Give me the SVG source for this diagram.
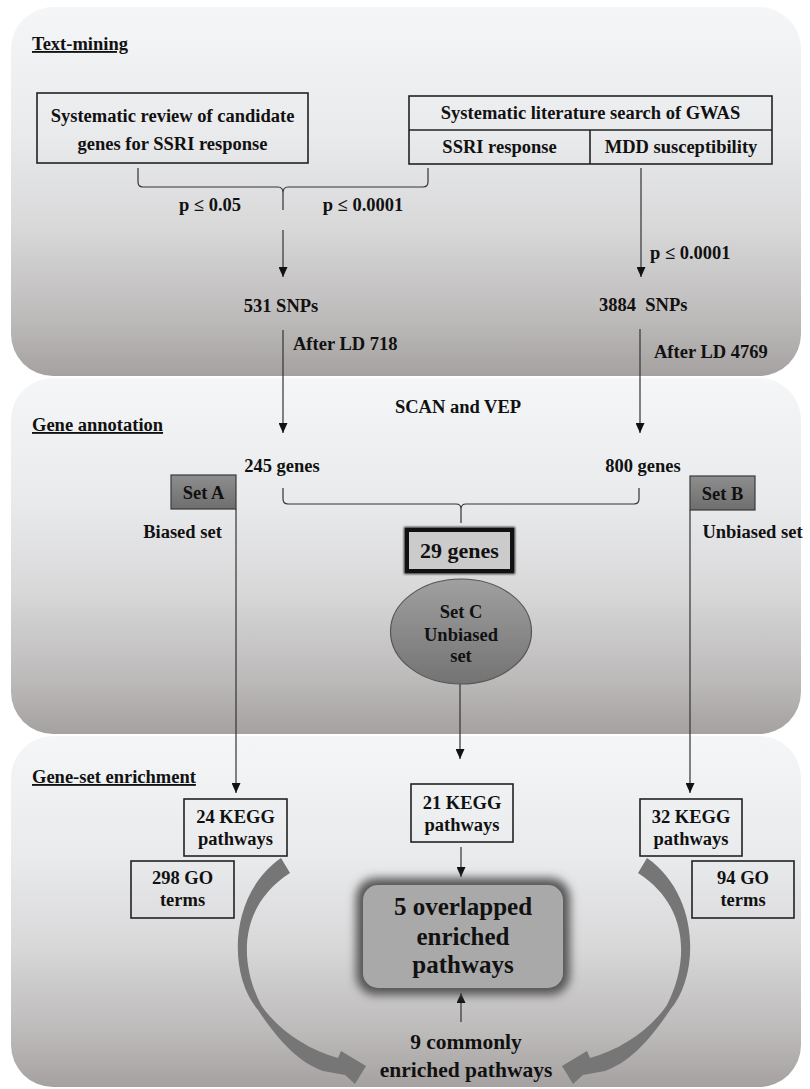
<svg xmlns="http://www.w3.org/2000/svg" width="810" height="1089" viewBox="0 0 810 1089">
<defs>
<style>
.t{font-family:'Liberation Serif','DejaVu Serif',serif;font-weight:bold;font-size:18.5px;fill:#111}
.c{text-anchor:middle}
.u{text-decoration:underline}
.box{fill:none;stroke:#222;stroke-width:1.6}
.ln{stroke:#333;stroke-width:1.2;fill:none}
.ar{marker-end:url(#ah)}
.big{fill:#767676}
</style>
<linearGradient id="pg" x1="0" y1="0" x2="0" y2="1">
<stop offset="0" stop-color="#f4f6f8"/>
<stop offset="0.35" stop-color="#e9eaec"/>
<stop offset="0.6" stop-color="#d8d8d9"/>
<stop offset="0.85" stop-color="#bcb9b9"/>
<stop offset="1" stop-color="#a5a1a1"/>
</linearGradient>
<linearGradient id="sg" x1="0" y1="0" x2="0" y2="1">
<stop offset="0" stop-color="#8e8e8e"/>
<stop offset="1" stop-color="#6e6e6e"/>
</linearGradient>
<linearGradient id="eg" x1="0" y1="0" x2="0" y2="1">
<stop offset="0" stop-color="#a0a0a0"/>
<stop offset="1" stop-color="#737373"/>
</linearGradient>
<filter id="blur" x="-20%" y="-30%" width="140%" height="160%">
<feGaussianBlur stdDeviation="5"/>
</filter>
<filter id="blur1" x="-10%" y="-20%" width="120%" height="140%">
<feGaussianBlur stdDeviation="1.2"/>
</filter>
<marker id="ah" markerUnits="userSpaceOnUse" markerWidth="10" markerHeight="9" refX="10" refY="4.5" orient="auto">
<path d="M0,0 L10,4.5 L0,9 Z" fill="#111"/>
</marker>
<path id="curve" d="M647 858 C700 895 700 975 670 1010 C650 1040 630 1062 605 1071 L583 1075 L573 1084 L562 1066 L587 1051 L590 1058 C620 1050 650 1030 667 1005 C690 960 688 905 638 873 Z"/>
</defs>

<g id="panels">
<rect id="panel-text-mining" x="11" y="7" width="790" height="369" rx="42" fill="url(#pg)"/>
<rect id="panel-gene-annotation" x="11" y="378" width="790" height="356" rx="42" fill="url(#pg)"/>
<rect id="panel-gene-set-enrichment" x="11" y="736" width="790" height="351" rx="42" fill="url(#pg)"/>
<text class="t u" x="32" y="50">Text-mining</text>
<text class="t u" x="32" y="431">Gene annotation</text>
<text class="t u" x="32" y="783">Gene-set enrichment</text>
</g>

<g id="connectors">
<path class="ln" d="M138 168 V182 Q138 187 143 187 H278 Q283 187 283 193 V210 M283 193 Q283 187 288 187 H423 Q428 187 428 182 V168"/>
<line class="ln ar" x1="283" y1="230" x2="283" y2="277"/>
<line class="ln ar" x1="641" y1="168" x2="641" y2="277"/>
<line class="ln ar" x1="283" y1="330" x2="283" y2="433"/>
<line class="ln ar" x1="640" y1="329" x2="640" y2="433"/>
<path class="ln" d="M283 488 V499 Q283 504 288 504 H456 Q461 504 461 509 V523 M461 509 Q461 504 466 504 H634 Q639 504 639 499 V488"/>
<line class="ln ar" x1="236" y1="509" x2="236" y2="793"/>
<line class="ln ar" x1="690" y1="510" x2="690" y2="793"/>
<line class="ln ar" x1="460" y1="668" x2="460" y2="759"/>
<line class="ln ar" x1="461" y1="847" x2="461" y2="877"/>
<line class="ln ar" x1="461" y1="1022" x2="461" y2="993"/>
<use id="curve-right" class="big" href="#curve"/>
<use id="curve-left" class="big" href="#curve" transform="translate(928 0) scale(-1 1)"/>
<text class="t c" x="210" y="211">p ≤ 0.05</text>
<text class="t c" x="363" y="211">p ≤ 0.0001</text>
<text class="t" x="650" y="259">p ≤ 0.0001</text>
<text class="t" x="293" y="350">After LD 718</text>
<text class="t" x="654" y="358">After LD 4769</text>
<text class="t c" x="458" y="413">SCAN and VEP</text>
</g>

<g id="node-review">
<rect class="box" x="37" y="93" width="271" height="70"/>
<text class="t c" x="172.5" y="122">Systematic review of candidate</text>
<text class="t c" x="172.5" y="150">genes for SSRI response</text>
</g>

<g id="node-gwas">
<rect class="box" x="409" y="96" width="363" height="68"/>
<line class="box" x1="409" y1="130" x2="772" y2="130"/>
<line class="box" x1="590" y1="130" x2="590" y2="164"/>
<text class="t c" x="590.5" y="119">Systematic literature search of GWAS</text>
<text class="t c" x="499.5" y="153">SSRI response</text>
<text class="t c" x="681" y="153">MDD susceptibility</text>
</g>

<g id="node-531"><text class="t c" x="281" y="312">531 SNPs</text></g>
<g id="node-3884"><text class="t" x="599" y="311" xml:space="preserve">3884  SNPs</text></g>
<g id="node-245"><text class="t c" x="282" y="472">245 genes</text></g>
<g id="node-800"><text class="t c" x="643" y="472">800 genes</text></g>

<g id="node-set-a">
<rect x="171" y="475" width="65" height="34" fill="url(#sg)" stroke="#3a3a3a" stroke-width="1.2"/>
<text class="t c" x="203.5" y="499">Set A</text>
<text class="t c" x="182.5" y="538">Biased set</text>
</g>

<g id="node-set-b">
<rect x="690" y="476" width="65" height="34" fill="url(#sg)" stroke="#3a3a3a" stroke-width="1.2"/>
<text class="t c" x="722.5" y="500">Set B</text>
<text class="t c" x="752.5" y="538">Unbiased set</text>
</g>

<g id="node-29">
<rect x="407" y="530" width="105" height="41" fill="none" stroke="#222" stroke-width="6" filter="url(#blur1)"/>
<rect x="407" y="530" width="105" height="41" fill="#cbcbcb" stroke="#111" stroke-width="4"/>
<text class="t c" x="459.5" y="558" style="font-size:22px">29 genes</text>
</g>

<g id="node-set-c">
<ellipse cx="461" cy="631.5" rx="70.5" ry="52.5" fill="url(#eg)" stroke="#555" stroke-width="1.2"/>
<text class="t c" x="461" y="618">Set C</text>
<text class="t c" x="461" y="641">Unbiased</text>
<text class="t c" x="461" y="662">set</text>
</g>

<g id="node-24kegg">
<rect class="box" x="184" y="799" width="103" height="57"/>
<text class="t c" x="235.5" y="823">24 KEGG</text>
<text class="t c" x="235.5" y="845">pathways</text>
</g>
<g id="node-21kegg">
<rect class="box" x="411" y="784" width="102" height="58"/>
<text class="t c" x="462" y="809">21 KEGG</text>
<text class="t c" x="462" y="831">pathways</text>
</g>
<g id="node-32kegg">
<rect class="box" x="640" y="799" width="102" height="57"/>
<text class="t c" x="691" y="823">32 KEGG</text>
<text class="t c" x="691" y="845">pathways</text>
</g>
<g id="node-298go">
<rect class="box" x="131" y="861" width="103" height="57"/>
<text class="t c" x="182.5" y="884">298 GO</text>
<text class="t c" x="182.5" y="906">terms</text>
</g>
<g id="node-94go">
<rect class="box" x="692" y="861" width="102" height="57"/>
<text class="t c" x="743" y="884">94 GO</text>
<text class="t c" x="743" y="906">terms</text>
</g>

<g id="node-5overlapped">
<rect x="356" y="878" width="214" height="117" rx="20" fill="#555" filter="url(#blur)"/>
<rect x="363" y="885" width="200" height="103" rx="15" fill="#a9a9a9"/>
<text class="t c" x="463" y="915" style="font-size:25px">5 overlapped</text>
<text class="t c" x="463" y="945" style="font-size:25px">enriched</text>
<text class="t c" x="463" y="973" style="font-size:25px">pathways</text>
</g>

<g id="node-9common">
<text class="t c" x="466" y="1049" style="font-size:21.5px">9 commonly</text>
<text class="t c" x="466" y="1077" style="font-size:21.5px">enriched pathways</text>
</g>
</svg>
